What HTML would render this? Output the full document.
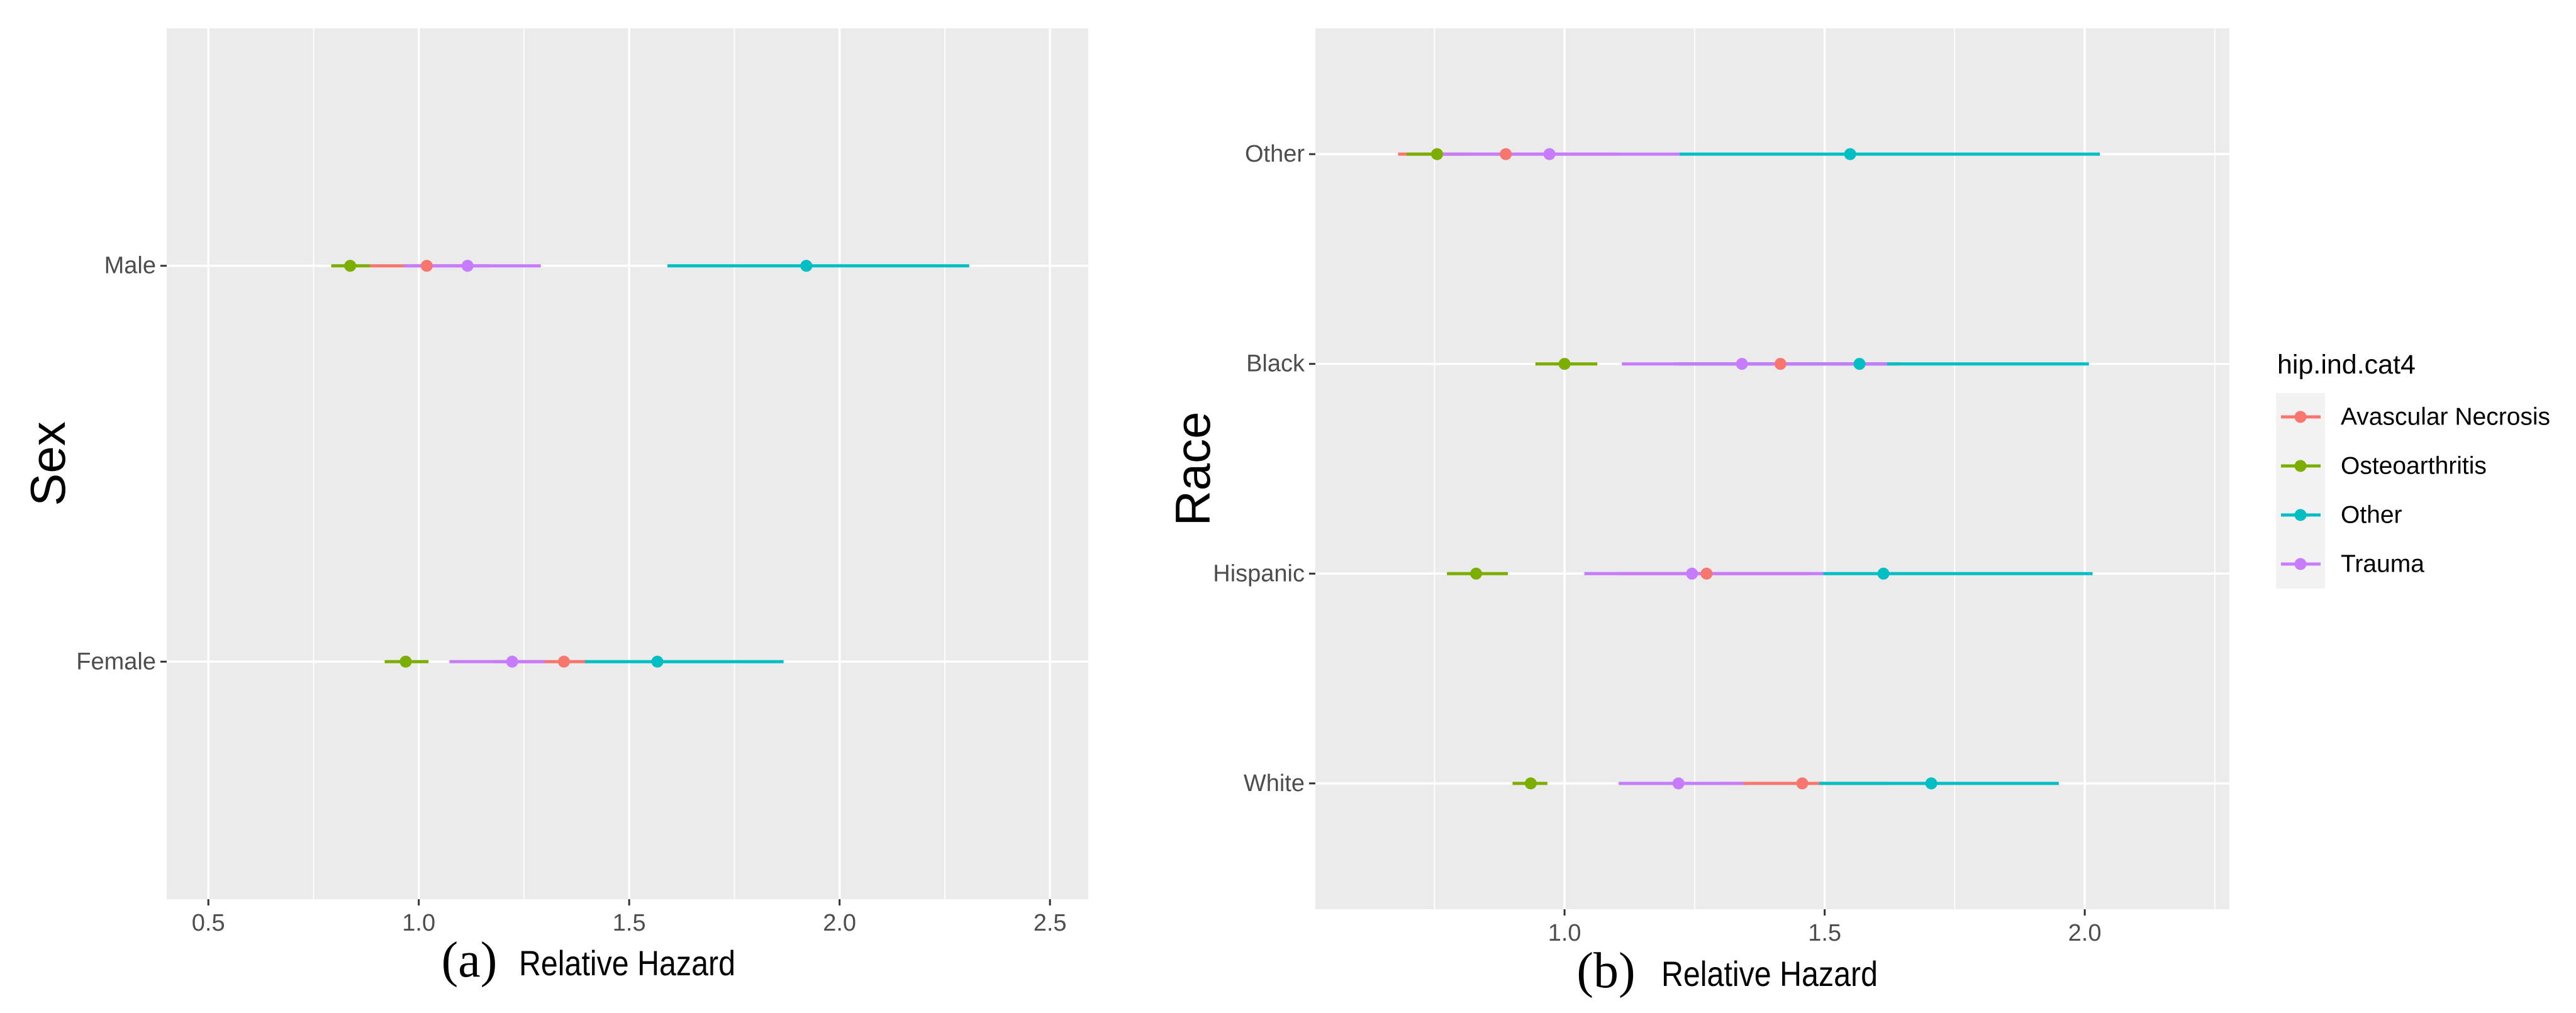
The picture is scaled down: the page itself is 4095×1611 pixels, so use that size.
<!DOCTYPE html>
<html><head><meta charset="utf-8"><style>
html,body{margin:0;padding:0;background:#fff;}
svg{display:block;font-family:"Liberation Sans",sans-serif;}
</style></head><body>
<svg id="chart" width="4095" height="1611" xmlns="http://www.w3.org/2000/svg"></svg>
<script>
const groups = ["Avascular Necrosis","Osteoarthritis","Other","Trauma"];
const colors = ["#F8766D","#7CAE00","#00BFC4","#C77CFF"];
// Panel A: Sex
const sexCats = ["Male","Female"];
const sexEst = [[1.019,0.837,1.921,1.116],[1.345,0.969,1.567,1.222]];
const sexLo  = [[0.884,0.792,1.591,0.964],[1.18,0.919,1.395,1.073]];
const sexHi  = [[1.17,0.884,2.308,1.290],[1.40,1.023,1.867,1.30]];
const sexTicks = [0.5,1.0,1.5,2.0,2.5];
const sexTickLabels = ["0.5","1.0","1.5","2.0","2.5"];
// Panel B: Race
const raceCats = ["Other","Black","Hispanic","White"];
const raceEst = [[0.887,0.755,1.549,0.971],[1.415,1.0,1.567,1.341],[1.273,0.830,1.613,1.245],[1.457,0.935,1.705,1.219]];
const raceLo  = [[0.680,0.696,1.221,0.76],[1.22,0.944,1.21,1.110],[1.10,0.774,1.497,1.038],[1.30,0.900,1.490,1.104]];
const raceHi  = [[1.10,0.82,2.029,1.221],[1.645,1.063,2.008,1.62],[1.47,0.891,2.015,1.497],[1.62,0.967,1.950,1.344]];
const raceTicks = [1.0,1.5,2.0];
const raceTickLabels = ["1.0","1.5","2.0"];

const NS="http://www.w3.org/2000/svg";
const svg=document.getElementById('chart');
function mk(tag,attrs,parent){const e=document.createElementNS(NS,tag);for(const k in attrs)e.setAttribute(k,attrs[k]);(parent||svg).appendChild(e);return e;}

function panel(p){
  const g=mk('g',{});
  
  
  const xs=v=>p.left+(v-p.xmin)/(p.xmax-p.xmin)*(p.right-p.left);
  const n=p.cats.length;
  const unit=(p.bottom-p.top)/(n-1+1.2);
  const ys=i=>p.top+unit*(0.6+i);
  const bg=mk('rect',{x:p.left,y:p.top,width:p.right-p.left,height:p.bottom-p.top,fill:'#EBEBEB'},g);
  
  
  p.minor.forEach(v=>{const l=mk('line',{x1:xs(v),x2:xs(v),y1:p.top,y2:p.bottom,stroke:'#fff','stroke-width':1.8},g);
    
    });
  p.ticks.forEach((v,i)=>{const l=mk('line',{x1:xs(v),x2:xs(v),y1:p.top,y2:p.bottom,stroke:'#fff','stroke-width':3.5},g);
    
    
    mk('line',{x1:xs(v),x2:xs(v),y1:p.bottom,y2:p.bottom+10,stroke:'#333','stroke-width':3},g);
    const t=mk('text',{x:xs(v),y:p.tickY,'font-size':38,fill:'#4D4D4D','text-anchor':'middle','dominant-baseline':'central'},g);
    t.textContent=p.tickLabels[i];
    
    });
  p.cats.forEach((c,i)=>{const y=ys(i);
    const l=mk('line',{x1:p.left,x2:p.right,y1:y,y2:y,stroke:'#fff','stroke-width':3.5},g);
    
    
    mk('line',{x1:p.left-10,x2:p.left,y1:y,y2:y,stroke:'#333','stroke-width':3},g);
    const t=mk('text',{x:p.left-17,y:y,'font-size':38,fill:'#4D4D4D','text-anchor':'end','dominant-baseline':'central'},g);
    t.textContent=c;
    
    });
  p.cats.forEach((c,i)=>{const y=ys(i);
    for(let k=0;k<groups.length;k++){
      const l=mk('line',{x1:xs(p.lo[i][k]),x2:xs(p.hi[i][k]),y1:y,y2:y,stroke:colors[k],'stroke-width':5},g);
      
      
    }});
  p.cats.forEach((c,i)=>{const y=ys(i);
    for(let k=0;k<groups.length;k++){
      const pt=mk('circle',{cx:xs(p.est[i][k]),cy:y,r:9.5,fill:colors[k]},g);
      
      
    }});
  const yt=mk('text',{x:p.ytx,y:(p.top+p.bottom)/2,'font-size':78,fill:'#000','text-anchor':'middle','dominant-baseline':'central',transform:`rotate(-90 ${p.ytx} ${(p.top+p.bottom)/2})`},g);
  yt.textContent=p.ytitle;
  
  
  const lab=mk('text',{x:p.labX,y:p.labY,'font-size':80,'font-family':'Liberation Serif, serif',fill:'#000','text-anchor':'middle'},g);
  lab.textContent=p.label;
  
  
  const xt=mk('text',{x:p.xtX,y:p.labY-2,'font-size':56,fill:'#000',textLength:344,lengthAdjust:'spacingAndGlyphs'},g);
  xt.textContent='Relative Hazard';
  
  
}

panel({name:'sex-panel',left:265,right:1730,top:45,bottom:1430,xmin:0.401,xmax:2.591,
  cats:sexCats,est:sexEst,lo:sexLo,hi:sexHi,ticks:sexTicks,tickLabels:sexTickLabels,minor:[0.75,1.25,1.75,2.25],
  tickY:1468,ytitle:'Sex',ytx:76,label:'(a)',labX:746,labY:1553,xtX:825});
panel({name:'race-panel',left:2091,right:3544,top:45,bottom:1446,xmin:0.521,xmax:2.278,
  cats:raceCats,est:raceEst,lo:raceLo,hi:raceHi,ticks:raceTicks,tickLabels:raceTickLabels,minor:[0.75,1.25,1.75,2.25],
  tickY:1484,ytitle:'Race',ytx:1896,label:'(b)',labX:2553,labY:1570,xtX:2641});

// Legend
const lg=mk('g',{});


const lt=mk('text',{x:3620,y:594,'font-size':43,fill:'#000'},lg);
lt.textContent='hip.ind.cat4';


mk('rect',{x:3618,y:625,width:78,height:311,fill:'#F2F2F2'},lg);
groups.forEach((gname,k)=>{const y=663+k*78;
  const e=mk('g',{},lg);
  
  
  mk('line',{x1:3626,x2:3689,y1:y,y2:y,stroke:colors[k],'stroke-width':5},e);
  mk('circle',{cx:3657,cy:y,r:9.5,fill:colors[k]},e);
  const t=mk('text',{x:3721,y:y,'font-size':39,fill:'#000','dominant-baseline':'central'},e);
  t.textContent=gname;});
</script>
</body></html>
